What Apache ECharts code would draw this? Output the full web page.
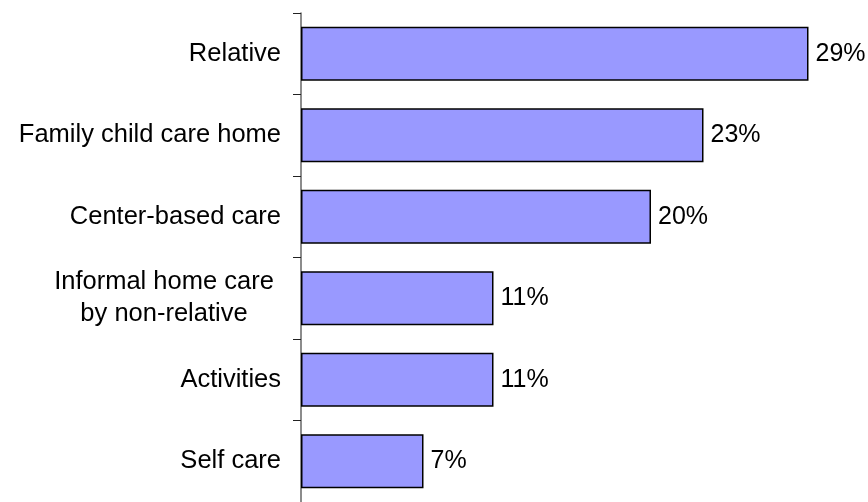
<!DOCTYPE html>
<html>
<head>
<meta charset="utf-8">
<script src="https://cdn.jsdelivr.net/npm/echarts@6/dist/echarts.min.js"></script>
<style>
    html, body { margin: 0; padding: 0; background: #fff; }
    #chart { width: 868px; height: 502px; }
</style>
</head>
<body>
<div id="chart"></div>
<script>
// categories from top to bottom
var categories = ['Relative', 'Family child care home', 'Center-based care',
    'Informal home care\nby non-relative', 'Activities', 'Self care'];
// share of children in each care type (%)
var shares = [29, 23, 20, 11, 11, 7];

var myChart = echarts.init(document.getElementById('chart'));
var font = '"Liberation Sans", Arial, sans-serif';

var option = {
    animation: false,
    grid: {
        left: 301,
        top: 13,
        width: 560,
        height: 492
    },
    xAxis: {
        type: 'value',
        min: 0,
        max: 32,
        show: false
    },
    yAxis: {
        type: 'category',
        data: categories,
        inverse: true,
        axisLine: { lineStyle: { color: '#666', width: 1.5 } },
        axisTick: { show: true, inside: false, length: 8, lineStyle: { color: '#222', width: 1 } },
        axisLabel: {
            margin: 20,
            fontFamily: font,
            fontSize: 25.5,
            color: '#000',
            lineHeight: 32,
            // two-line label is centred line by line
            formatter: function (v) {
                if (v.indexOf('\n') >= 0) {
                    return v.split('\n').map(function (s) { return '{c|' + s + '}'; }).join('\n');
                }
                return v;
            },
            rich: {
                c: { width: 234, align: 'center', fontFamily: font, fontSize: 25.5, color: '#000', lineHeight: 32 }
            }
        }
    },
    series: [
        {
            type: 'bar',
            data: shares,
            barWidth: 54,
            itemStyle: {
                color: '#9999ff',
                borderColor: '#000',
                borderWidth: 1.5
            },
            label: {
                show: true,
                position: 'right',
                distance: 7,
                formatter: '{c}%',
                fontFamily: font,
                fontSize: 25,
                color: '#000'
            }
        }
    ]
};

option && myChart.setOption(option);
</script>
</body>
</html>
